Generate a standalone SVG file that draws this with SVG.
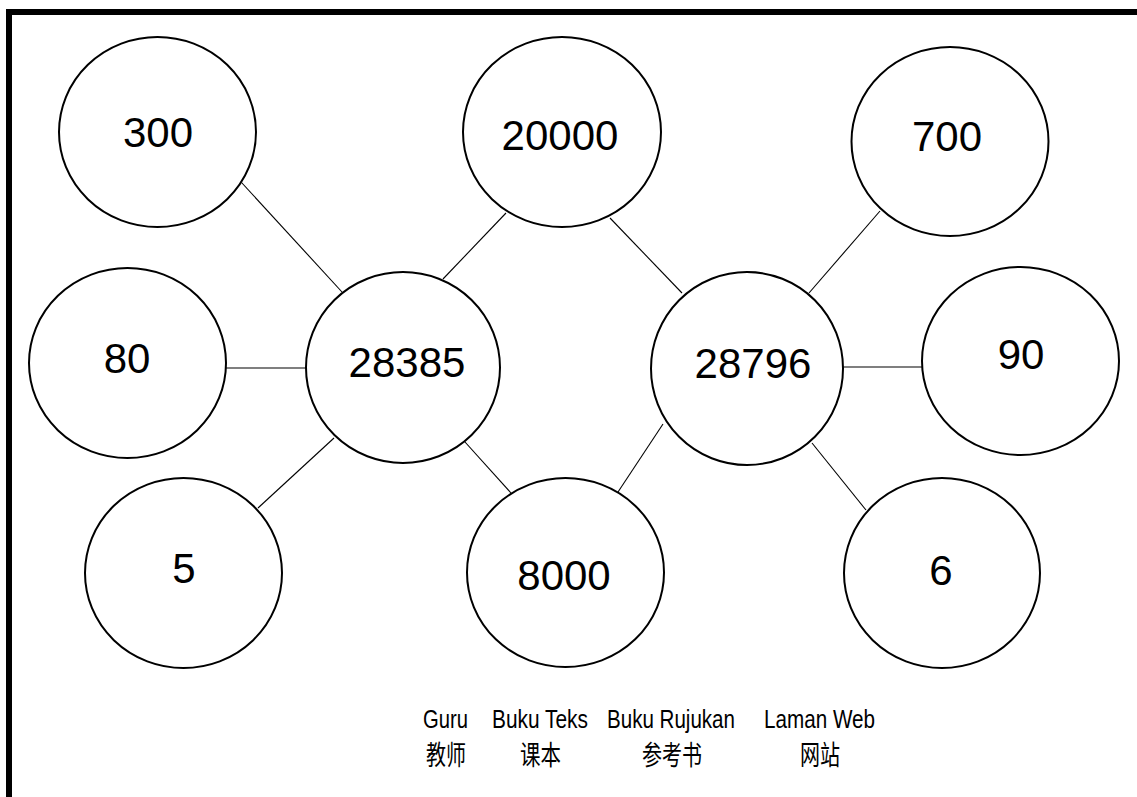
<svg xmlns="http://www.w3.org/2000/svg" width="1137" height="797" viewBox="0 0 1137 797">
  <style>
    .node { fill: #ffffff; stroke: #000000; stroke-width: 2; }
    .num { font-family: "Liberation Sans", Arial, sans-serif; font-size: 42px; fill: #000000; text-anchor: middle; }
    .link { stroke: #000000; stroke-width: 1.1; fill: none; }
    .lat { font-family: "Liberation Sans", Arial, sans-serif; font-size: 26px; fill: #000000; text-anchor: middle; }
    .cjk { font-family: "Liberation Sans", "Noto Sans CJK SC", sans-serif; font-size: 27px; fill: #000000; text-anchor: middle; }
  </style>
  <rect x="0" y="0" width="1137" height="797" fill="#ffffff"/>
  <!-- outer frame -->
  <rect x="9" y="12" width="1140" height="800" fill="none" stroke="#000000" stroke-width="6"/>

  <!-- connectors -->
  <g id="connectors">
    <line class="link" x1="241.5" y1="182.5" x2="342" y2="292"/>
    <line class="link" x1="226" y1="368" x2="306" y2="368"/>
    <line class="link" x1="258" y1="508" x2="334" y2="438"/>
    <line class="link" x1="465" y1="442" x2="511" y2="493"/>
    <line class="link" x1="443" y1="279" x2="506" y2="213"/>
    <line class="link" x1="610" y1="218" x2="682" y2="293"/>
    <line class="link" x1="809" y1="293" x2="880" y2="211"/>
    <line class="link" x1="843" y1="367" x2="922" y2="367"/>
    <line class="link" x1="812" y1="443" x2="866" y2="510"/>
    <line class="link" x1="663" y1="424" x2="618" y2="492"/>
  </g>

  <g id="n300">
    <ellipse class="node" cx="157.5" cy="132" rx="98.5" ry="95"/>
    <text class="num" x="158" y="147">300</text>
  </g>
  <g id="n20000">
    <ellipse class="node" cx="562" cy="132" rx="99" ry="95"/>
    <text class="num" x="560" y="150">20000</text>
  </g>
  <g id="n700">
    <ellipse class="node" cx="950" cy="141.5" rx="98.5" ry="94.5"/>
    <text class="num" x="947" y="151">700</text>
  </g>
  <g id="n80">
    <ellipse class="node" cx="127.5" cy="363" rx="98.5" ry="95"/>
    <text class="num" x="127" y="373">80</text>
  </g>
  <g id="n28385">
    <ellipse class="node" cx="403" cy="367.5" rx="97" ry="95.5"/>
    <text class="num" x="407" y="377">28385</text>
  </g>
  <g id="n28796">
    <ellipse class="node" cx="747" cy="368.5" rx="96" ry="96.5"/>
    <text class="num" x="753" y="378">28796</text>
  </g>
  <g id="n90">
    <ellipse class="node" cx="1020.5" cy="361" rx="98.5" ry="94"/>
    <text class="num" x="1021" y="369">90</text>
  </g>
  <g id="n5">
    <ellipse class="node" cx="183.5" cy="573" rx="98.5" ry="95"/>
    <text class="num" x="184" y="583">5</text>
  </g>
  <g id="n8000">
    <ellipse class="node" cx="565.5" cy="572.5" rx="98.5" ry="94.5"/>
    <text class="num" x="564" y="590">8000</text>
  </g>
  <g id="n6">
    <ellipse class="node" cx="942" cy="573" rx="98" ry="95"/>
    <text class="num" x="941" y="585">6</text>
  </g>

  <!-- legend -->
  <g id="legend">
    <text class="lat" x="445.5" y="728" textLength="45" lengthAdjust="spacingAndGlyphs">Guru</text>
    <text class="lat" x="540" y="728" textLength="96" lengthAdjust="spacingAndGlyphs">Buku Teks</text>
    <text class="lat" x="671" y="728" textLength="128" lengthAdjust="spacingAndGlyphs">Buku Rujukan</text>
    <text class="lat" x="819.5" y="728" textLength="111" lengthAdjust="spacingAndGlyphs">Laman Web</text>
    <text class="cjk" x="446" y="765" textLength="40" lengthAdjust="spacingAndGlyphs">教师</text>
    <text class="cjk" x="540.5" y="765" textLength="41" lengthAdjust="spacingAndGlyphs">课本</text>
    <text class="cjk" x="672" y="765" textLength="60" lengthAdjust="spacingAndGlyphs">参考书</text>
    <text class="cjk" x="820" y="765" textLength="40" lengthAdjust="spacingAndGlyphs">网站</text>
  </g>
</svg>
